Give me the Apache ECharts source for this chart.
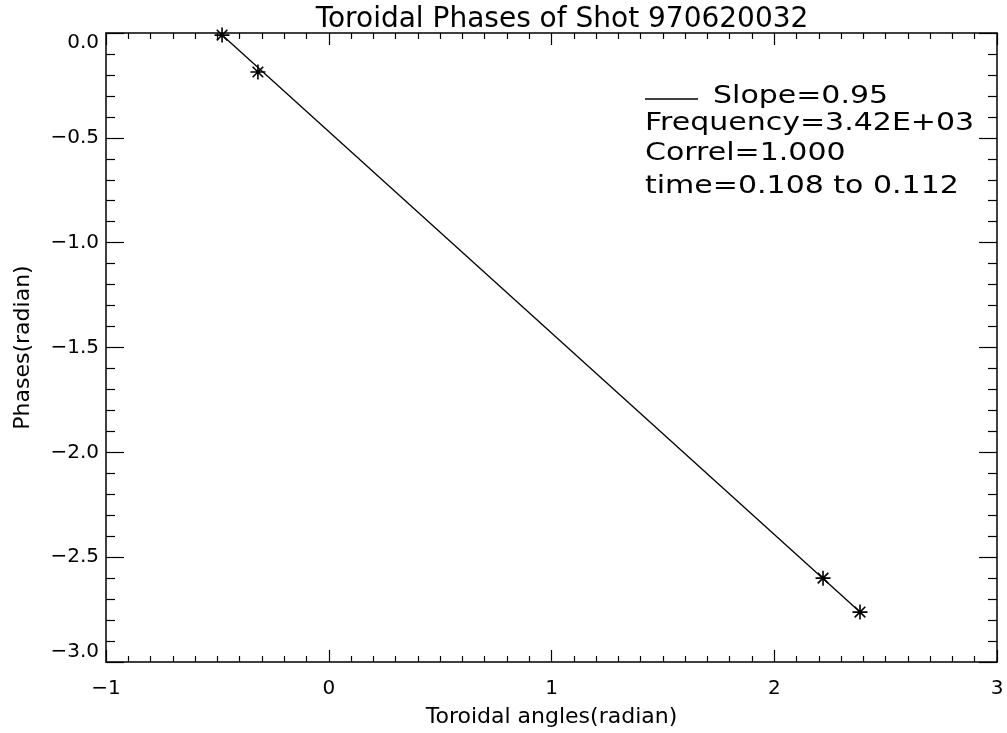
<!DOCTYPE html>
<html>
<head>
<meta charset="utf-8">
<script src="https://cdn.jsdelivr.net/npm/echarts@6/dist/echarts.min.js"></script>
<style>
  html, body { margin: 0; padding: 0; background: #fff; }
  #main { width: 1007px; height: 733px; }
</style>
</head>
<body>
<div id="main"></div>
<script>
// measured phases at each toroidal probe angle
var probeAngles = [-0.479, -0.318, 2.219, 2.385];
var probePhases = [-0.01, -0.186, -2.60, -2.762];
// fitted line, end to end
var fitAngles = [-0.479, 2.385];
var fitPhases = [-0.01, -2.762];
var legendLines = ['Slope=0.95', 'Frequency=3.42E+03', 'Correl=1.000', 'time=0.108 to 0.112'];

var font = 'DejaVu Sans';
var minus = function (v, d) {
  var s = Math.abs(v).toFixed(d);
  return (v < 0 ? '\u2212' : '') + s;
};

var chart = echarts.init(document.getElementById('main'));

var axisLine = { show: true, onZero: false, lineStyle: { color: '#000', width: 1.5 } };

var xBase = {
  type: 'value', min: -1, max: 3, interval: 1,
  axisLine: axisLine,
  axisTick: { show: true, inside: true, length: 12, lineStyle: { color: '#000', width: 1.2 } },
  minorTick: { show: true, splitNumber: 10, length: 6, lineStyle: { color: '#000', width: 1.2 } },
  splitLine: { show: false }
};
var yBase = {
  type: 'value', min: -3, max: 0, interval: 0.5,
  axisLine: axisLine,
  axisTick: { show: true, inside: true, length: 18, lineStyle: { color: '#000', width: 1.2 } },
  minorTick: { show: true, splitNumber: 5, length: 9, lineStyle: { color: '#000', width: 1.2 } },
  splitLine: { show: false }
};

var star = 'path://M0,-10L0,10M-10,0L10,0M-7.07,-7.07L7.07,7.07M-7.07,7.07L7.07,-7.07';

chart.setOption({
  animation: false,
  title: {
    text: 'Toroidal Phases of Shot 970620032',
    left: 557, top: 1, textAlign: 'center',
    textStyle: { fontFamily: font, fontSize: 28, fontWeight: 'normal', color: '#000' }
  },
  grid: { left: 106, right: 10, top: 33, bottom: 71 },
  xAxis: [
    Object.assign({}, xBase, {
      position: 'bottom',
      name: 'Toroidal angles(radian)', nameLocation: 'middle', nameGap: 44,
      nameTextStyle: { fontFamily: font, fontSize: 22, color: '#000' },
      axisLabel: { margin: 17, fontFamily: font, fontSize: 20, color: '#000',
        formatter: function (v) { return minus(v, 0); } }
    }),
    Object.assign({}, xBase, { position: 'top', axisLabel: { show: false } })
  ],
  yAxis: [
    Object.assign({}, yBase, {
      position: 'left',
      name: 'Phases(radian)', nameLocation: 'middle', nameGap: 72,
      nameTextStyle: { fontFamily: font, fontSize: 22, color: '#000' },
      axisLabel: { margin: 7, fontFamily: font, fontSize: 20, color: '#000',
        verticalAlignMinLabel: 'bottom', verticalAlignMaxLabel: 'top',
        formatter: function (v) { return minus(v, 1); } }
    }),
    Object.assign({}, yBase, { position: 'right', axisLabel: { show: false } })
  ],
  series: [
    {
      type: 'line',
      data: fitAngles.map(function (x, i) { return [x, fitPhases[i]]; }),
      showSymbol: false,
      lineStyle: { color: '#000', width: 1.3 }
    },
    {
      type: 'scatter',
      data: probeAngles.map(function (x, i) { return [x, probePhases[i]]; }),
      symbol: star, symbolSize: 15,
      itemStyle: { color: 'none', borderColor: '#000', borderWidth: 1.6, opacity: 1 }
    }
  ],
  graphic: [
    { type: 'line', shape: { x1: 645, y1: 99, x2: 698, y2: 99 },
      style: { stroke: '#000', lineWidth: 1.3 } }
  ].concat(legendLines.map(function (t, i) {
    var rowY = [96, 123, 153, 186];
    return {
      type: 'text', x: i === 0 ? 713 : 645, y: rowY[i], scaleX: 1.2,
      style: { text: t, x: 0, y: 0, font: '25px "' + font + '"', fill: '#000',
        textAlign: 'left', textVerticalAlign: 'middle' }
    };
  }))
});
</script>
</body>
</html>
